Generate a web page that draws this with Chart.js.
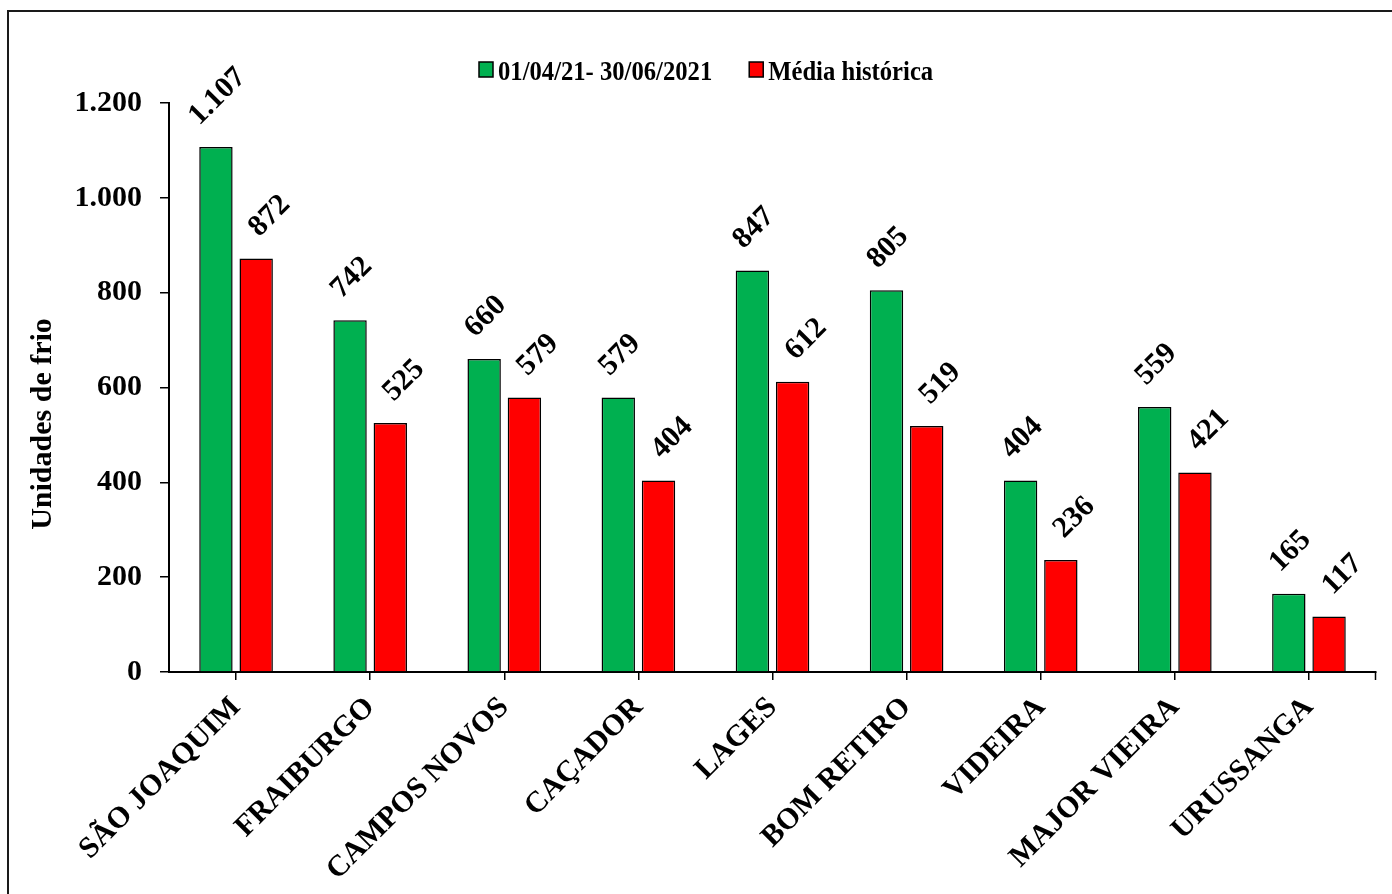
<!DOCTYPE html>
<html><head><meta charset="utf-8">
<script src="https://cdn.jsdelivr.net/npm/chart.js@4"></script>
<style>html,body{margin:0;padding:0;background:#fff}canvas{display:block}</style>
</head><body>
<canvas id="c" width="1392" height="894"></canvas>
<script>
const categories = ['SÃO JOAQUIM','FRAIBURGO','CAMPOS NOVOS','CAÇADOR','LAGES','BOM RETIRO','VIDEIRA','MAJOR VIEIRA','URUSSANGA'];
const series2021 = [1107, 742, 660, 579, 847, 805, 404, 559, 165];
const seriesHist = [872, 525, 579, 404, 612, 519, 236, 421, 117];
const seriesNames = ['01/04/21- 30/06/2021', 'Média histórica'];
const seriesColors = ['#00B050', '#FF0000'];
const yTitle = 'Unidades de frio';
const yMin = 0, yMax = 1200, yStep = 200;

const FONT = "'Liberation Serif','Times New Roman',serif";
function fmt(v){ return String(v).replace(/\B(?=(\d{3})+(?!\d))/g, '.'); }

const overlay = {
  id: 'overlay',
  beforeDraw(chart){
    const c = chart.ctx; c.save(); c.fillStyle = '#fff'; c.fillRect(0,0,chart.width,chart.height); c.restore();
  },
  afterDatasetsDraw(chart){
    const ctx = chart.ctx;
    chart.data.datasets.forEach((ds, di) => {
      const meta = chart.getDatasetMeta(di);
      meta.data.forEach((bar, i) => {
        const txt = fmt(ds.data[i]);
        ctx.save();
        ctx.font = 'bold 30px ' + FONT;
        const w = ctx.measureText(txt).width;
        const h = 20;
        const bb = (w + h) * Math.SQRT1_2;
        const cx = bar.x + (di === 1 ? 12 : 0);
        const cy = bar.y - 21 - bb / 2;
        ctx.translate(cx, cy); ctx.rotate(-Math.PI / 4);
        ctx.fillStyle = '#000'; ctx.textAlign = 'center'; ctx.textBaseline = 'alphabetic';
        ctx.fillText(txt, 0, h / 2);
        ctx.restore();
      });
    });
  },
  afterDraw(chart){
    const ctx = chart.ctx;
    const ca = chart.chartArea;
    ctx.save();
    // outer frame
    ctx.strokeStyle = '#1a1a1a'; ctx.lineWidth = 2;
    ctx.beginPath(); ctx.moveTo(8, chart.height); ctx.lineTo(8, 11); ctx.lineTo(chart.width, 11); ctx.stroke();
    // right end tick of category axis
    ctx.strokeStyle = '#000'; ctx.lineWidth = 1.5;
    ctx.beginPath(); ctx.moveTo(ca.right - 0.5, ca.bottom); ctx.lineTo(ca.right - 0.5, ca.bottom + 8); ctx.stroke();
    // y axis title
    ctx.save();
    ctx.font = 'bold 30px ' + FONT; ctx.fillStyle = '#000'; ctx.textAlign = 'center'; ctx.textBaseline = 'middle';
    ctx.translate(43, 424); ctx.rotate(-Math.PI / 2); ctx.fillText(yTitle, 0, 0);
    ctx.restore();
    // legend
    const sx = 0.88;
    ctx.font = 'bold 28px ' + FONT;
    let x = 479;
    chart.data.datasets.forEach((ds, di) => {
      ctx.fillStyle = ds.backgroundColor;
      ctx.fillRect(x, 62, 14, 15);
      ctx.strokeStyle = '#000'; ctx.lineWidth = 1.5;
      ctx.strokeRect(x, 62, 14, 15);
      const tx = x + 19;
      const w = ctx.measureText(ds.label).width * sx;
      ctx.save();
      ctx.translate(tx, 80); ctx.scale(sx, 1);
      ctx.fillStyle = '#000'; ctx.textAlign = 'left'; ctx.textBaseline = 'alphabetic';
      ctx.fillText(ds.label, 0, 0);
      ctx.restore();
      x = tx + w + 37;
    });
    ctx.restore();
  }
};

new Chart(document.getElementById('c'), {
  type: 'bar',
  data: {
    labels: categories,
    datasets: [
      { label: seriesNames[0], data: series2021, backgroundColor: seriesColors[0], borderColor: '#000', borderWidth: 1.5 },
      { label: seriesNames[1], data: seriesHist, backgroundColor: seriesColors[1], borderColor: '#000', borderWidth: 1.5 }
    ]
  },
  options: {
    responsive: false,
    animation: false,
    devicePixelRatio: 1,
    layout: { padding: { top: 103, right: 16, bottom: 0, left: 0 } },
    datasets: { bar: { categoryPercentage: 0.6, barPercentage: 0.83 } },
    plugins: { legend: { display: false }, tooltip: { enabled: false } },
    scales: {
      x: {
        type: 'category',
        offset: true,
        afterFit(s){ s.height = 222; },
        grid: { offset: false, drawOnChartArea: false, drawTicks: true, tickLength: 8, color: '#000', lineWidth: 1.5 },
        border: { color: '#000', width: 2 },
        ticks: { autoSkip: false, maxRotation: 45, minRotation: 45, padding: 10, color: '#000', font: { family: FONT, size: 30, weight: 'bold' } }
      },
      y: {
        min: yMin, max: yMax,
        afterFit(s){ s.width = 169; },
        grid: { drawOnChartArea: false, drawTicks: true, tickLength: 9, color: '#000', lineWidth: 1.5 },
        border: { color: '#000', width: 2 },
        ticks: { stepSize: yStep, padding: 18, color: '#000', font: { family: FONT, size: 30, weight: 'bold' }, callback: v => fmt(v) }
      }
    }
  },
  plugins: [overlay]
});
</script>
</body></html>
